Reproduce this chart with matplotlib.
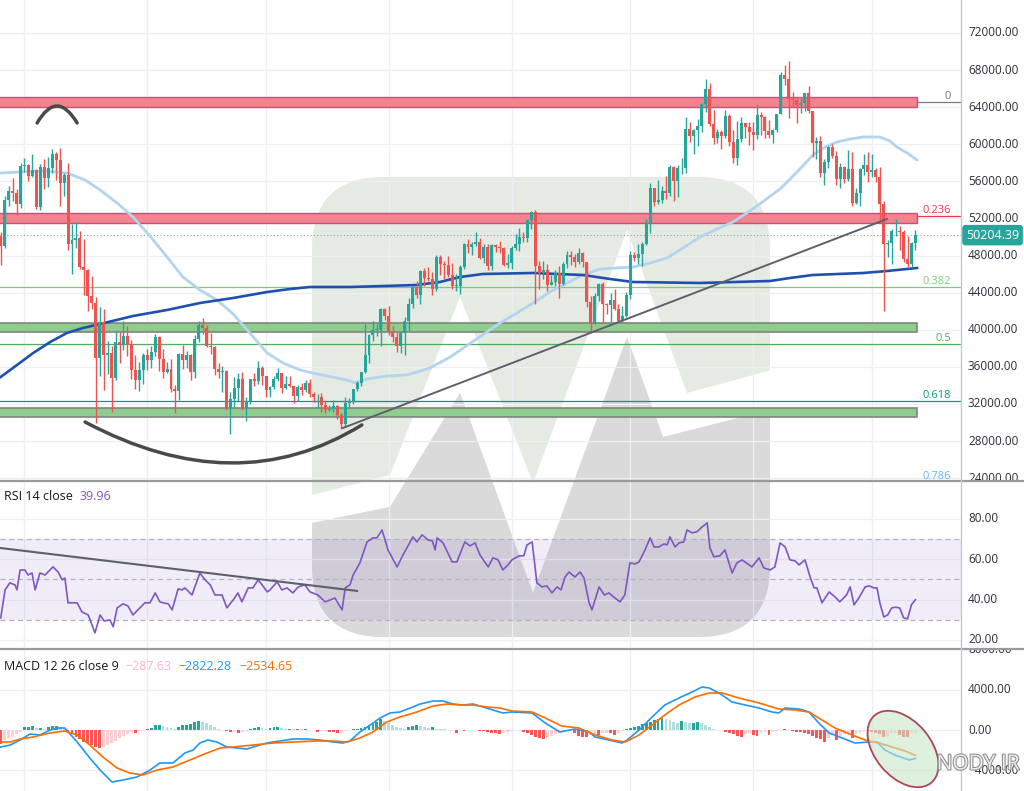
import numpy as np
import matplotlib.pyplot as plt
from matplotlib.patches import FancyBboxPatch, Polygon, Ellipse, PathPatch, Rectangle
from matplotlib.path import Path
from matplotlib.transforms import Bbox, blended_transform_factory
import matplotlib.patheffects as pe

plt.rcParams['font.family'] = ['Open Sans', 'DejaVu Sans']

# =========================
# DATA: daily candles (thousands USD)
# =========================
close_k = [
    49.0, 54.0, 55.0, 54.8, 53.6, 57.7, 57.8, 56.6, 57.2, 53.2,
    57.5, 56.4, 57.4, 58.9, 58.3, 55.8, 56.7, 49.2, 49.7, 49.9,
    46.8, 46.4, 43.6, 42.9, 37.0, 40.8, 37.3, 37.5, 34.8, 38.7,
    38.4, 39.3, 38.5, 35.7, 34.6, 35.7, 37.3, 36.7, 37.6, 39.2,
    36.8, 35.5, 35.8, 33.6, 33.4, 37.4, 36.7, 37.3, 35.5, 39.0,
    40.5, 40.2, 38.3, 38.1, 35.8, 35.5, 35.6, 31.6, 32.5, 33.7,
    34.7, 31.6, 32.3, 34.7, 34.5, 35.9, 35.0, 33.5, 33.8, 34.7,
    35.3, 33.7, 34.2, 33.9, 32.9, 33.8, 33.5, 34.3, 33.1, 32.7,
    32.8, 31.9, 31.4, 31.5, 31.8, 30.8, 29.8, 32.1, 32.3, 33.6,
    34.3, 35.4, 37.3, 39.4, 40.0, 40.0, 42.2, 41.5, 39.8, 39.2,
    38.2, 39.7, 40.9, 42.8, 44.6, 43.8, 46.3, 45.6, 45.5, 44.4,
    47.8, 47.1, 47.0, 45.9, 44.7, 44.7, 46.8, 49.3, 48.9, 49.3,
    49.5, 47.7, 48.9, 46.9, 49.1, 48.9, 48.8, 47.0, 47.2, 48.8,
    49.3, 50.0, 49.9, 51.8, 52.7, 46.9, 46.1, 46.4, 44.8, 45.2,
    46.1, 44.9, 47.1, 48.1, 47.8, 47.3, 48.3, 47.3, 43.0, 40.7,
    43.6, 44.9, 42.8, 42.7, 43.2, 42.2, 41.0, 41.5, 43.8, 48.1,
    47.7, 48.2, 49.2, 51.5, 55.3, 53.8, 54.0, 55.0, 54.7, 57.5,
    56.0, 57.4, 57.4, 61.7, 60.9, 61.5, 62.0, 64.3, 66.0, 62.2,
    60.7, 61.3, 60.9, 63.1, 60.3, 58.5, 60.6, 62.3, 61.9, 61.3,
    61.0, 63.2, 62.9, 61.4, 61.0, 61.5, 63.3, 67.5, 67.0, 64.9,
    64.8, 64.2, 64.4, 65.5, 63.6, 60.1, 60.4, 56.9, 58.1, 59.7,
    58.7, 56.3, 57.6, 56.3, 57.3, 53.7, 54.8, 57.3, 57.8, 57.0,
    57.2, 56.5, 53.6, 49.2, 49.4, 50.6, 50.6, 50.5, 47.6, 47.1,
    49.4, 50.20439,
]
high_k = [
    50.5, 54.4, 55.5, 56.4, 55.2, 58.0, 58.5, 57.9, 58.9, 57.3,
    57.9, 58.4, 58.6, 59.5, 59.2, 59.6, 56.9, 58.0, 51.4, 51.6,
    50.7, 49.8, 46.6, 45.8, 43.5, 42.5, 42.2, 38.8, 38.3, 39.9,
    39.8, 40.9, 40.4, 38.9, 37.3, 36.5, 37.5, 37.9, 38.2, 39.5,
    39.3, 37.9, 36.5, 36.8, 34.1, 37.5, 38.4, 37.7, 37.4, 39.4,
    41.0, 41.3, 40.5, 39.6, 38.2, 36.4, 36.1, 35.7, 33.3, 34.9,
    35.3, 35.5, 32.7, 34.7, 35.3, 36.6, 36.1, 35.0, 33.9, 35.0,
    35.9, 35.3, 35.0, 35.0, 33.9, 34.1, 34.3, 34.6, 34.7, 33.3,
    33.1, 33.2, 32.3, 31.9, 32.4, 31.9, 31.0, 32.8, 32.6, 33.6,
    34.5, 35.4, 40.6, 39.5, 40.9, 40.6, 42.3, 42.4, 42.6, 40.4,
    39.8, 39.9, 41.4, 43.4, 44.7, 45.3, 46.5, 46.7, 46.8, 46.2,
    48.1, 48.1, 47.4, 48.0, 47.2, 46.0, 47.0, 49.4, 49.8, 49.5,
    50.5, 49.9, 49.3, 49.3, 49.2, 49.3, 49.6, 48.9, 48.2, 49.0,
    50.3, 51.0, 50.5, 51.9, 52.8, 52.9, 47.4, 47.4, 47.1, 45.9,
    46.5, 46.9, 47.3, 48.5, 48.5, 48.2, 48.8, 48.4, 47.3, 43.6,
    44.0, 45.0, 45.2, 42.9, 44.0, 44.4, 42.8, 42.6, 44.1, 48.5,
    48.4, 49.2, 49.5, 51.9, 55.8, 55.3, 56.1, 55.5, 56.6, 57.8,
    57.7, 57.8, 58.5, 62.9, 62.4, 61.7, 62.7, 64.5, 67.0, 66.6,
    63.7, 61.7, 61.5, 63.7, 63.3, 61.5, 62.5, 62.9, 62.3, 62.4,
    62.4, 64.3, 63.5, 63.1, 62.6, 61.6, 63.3, 67.8, 68.5, 69.0,
    65.6, 65.0, 65.0, 65.5, 66.3, 63.6, 60.8, 60.9, 58.4, 59.8,
    60.0, 59.3, 58.0, 57.7, 59.4, 59.2, 55.3, 57.4, 58.9, 59.2,
    59.0, 57.4, 57.6, 53.9, 49.7, 50.9, 51.9, 51.2, 50.8, 50.1,
    49.5, 50.8,
]
low_k = [
    47.0, 48.8, 53.3, 53.9, 52.4, 53.1, 57.0, 56.0, 56.5, 53.0,
    52.9, 55.2, 55.4, 56.9, 56.2, 53.4, 54.4, 48.6, 46.0, 48.8,
    46.6, 43.8, 42.0, 42.2, 30.0, 35.0, 33.5, 35.2, 31.1, 34.6,
    36.4, 37.8, 37.2, 34.7, 33.6, 33.4, 34.2, 35.7, 35.9, 37.2,
    35.6, 34.8, 35.3, 33.3, 31.0, 32.4, 35.8, 35.9, 34.6, 34.8,
    38.7, 39.5, 38.1, 37.4, 35.1, 34.8, 33.3, 31.3, 28.8, 31.7,
    32.3, 31.3, 30.2, 32.0, 33.9, 34.2, 34.0, 32.7, 32.7, 33.6,
    34.5, 33.2, 33.6, 33.8, 32.1, 32.3, 33.0, 33.3, 32.7, 32.2,
    31.6, 31.1, 31.0, 31.2, 31.1, 30.4, 29.3, 29.5, 31.7, 32.0,
    33.4, 33.9, 35.3, 36.4, 38.8, 39.3, 38.3, 41.1, 39.4, 38.7,
    37.6, 37.5, 37.3, 39.9, 42.4, 43.4, 42.8, 44.7, 45.3, 43.8,
    44.2, 45.9, 45.5, 45.7, 44.4, 44.2, 43.9, 46.6, 48.3, 48.1,
    49.0, 47.6, 47.2, 46.4, 46.5, 48.4, 48.3, 46.9, 46.7, 46.6,
    48.6, 48.5, 49.5, 49.5, 50.9, 42.8, 44.4, 45.5, 44.2, 44.8,
    44.7, 43.4, 44.8, 46.7, 47.0, 46.8, 47.1, 46.8, 42.5, 39.6,
    40.6, 43.1, 40.7, 41.7, 40.8, 42.1, 40.9, 40.8, 41.4, 43.3,
    47.4, 47.1, 46.9, 49.1, 50.4, 53.4, 53.6, 53.7, 54.1, 54.4,
    53.9, 54.3, 56.8, 56.9, 60.2, 58.9, 59.8, 61.3, 63.5, 62.0,
    60.0, 60.1, 59.5, 60.7, 59.8, 58.0, 57.8, 60.2, 60.7, 59.9,
    59.4, 60.6, 61.0, 60.7, 60.7, 60.1, 61.3, 63.3, 66.4, 62.8,
    64.1, 62.3, 63.4, 63.6, 63.4, 58.6, 58.4, 56.5, 55.6, 57.4,
    58.5, 55.6, 55.3, 55.8, 56.0, 53.3, 53.6, 53.3, 56.7, 55.9,
    56.5, 55.9, 51.7, 42.0, 47.8, 47.1, 50.1, 48.6, 47.3, 46.8,
    46.8, 48.6,
]
# each daily candle opens where the previous one closed
open_k = [50.1] + close_k[:-1]

# moving averages, sampled along the drawn lines
ma50_idx = [0, 4.9, 11.2, 16.7, 21.3, 25.1, 29.4, 33.4, 37.7, 42.0, 46.0, 50.3, 54.6, 58.7,
            62.9, 67.3, 71.3, 75.6, 79.9, 83.9, 88.2, 89.5, 92.5, 97.6, 102.6, 108.4, 113.5,
            119.8, 126.1, 130.4, 134.4, 138.7, 143.0, 147.0, 151.3, 155.6, 159.7, 164.0, 168.3,
            172.3, 176.6, 180.9, 184.9, 189.2, 193.0, 196.8, 201.1, 205.1, 208.2, 211.2, 214.5,
            217.8, 222.0, 224.6, 226.3, 228.9, 231.4]
ma50 = [56905, 57013, 57121, 56905, 56150, 55072, 53671, 52161, 50113, 47848, 45692, 44291,
        43213, 41703, 39655, 37498, 36420, 35665, 35234, 34911, 34479, 34264, 34695, 35018,
        35126, 35881, 37067, 38900, 40733, 41812, 42890, 44076, 45045, 45908, 46554, 46662,
        46770, 47199, 47740, 48818, 50004, 50867, 51622, 52808, 53994, 55180, 57013, 58846,
        59708, 60247, 60571, 60787, 60787, 60355, 59708, 59061, 58307]
ma200_idx = [0, 4.1, 8.2, 12.5, 16.7, 20.8, 25.1, 33.4, 42.0, 50.3, 58.7, 67.3, 73.1, 78.1,
             88.2, 105.1, 110.9, 116.0, 121.8, 134.4, 147.0, 153.9, 159.7, 176.6, 194.3, 199.3,
             205.1, 217.8, 223.8, 231.4]
ma200 = [34911, 36203, 37498, 38684, 39655, 40194, 40624, 41487, 42134, 42889, 43428, 44075,
         44399, 44614, 44614, 44830, 45153, 45692, 46016, 46124, 45908, 45477, 45153, 45046,
         45261, 45585, 45908, 46124, 46339, 46663]

red_zones = [(64000, 65100), (51480, 52550)]
green_zones = [(39720, 40780), (30600, 31600)]
zone_end = 231.4

fib_labels = ["0", "0.236", "0.382", "0.5", "0.618", "0.786"]
fib_prices = [64560, 52250, 44620, 38470, 32310, 23550]
fib_colors = ["#787b86", "#f23645", "#81c784", "#4caf50", "#089981", "#64b5f6"]

trend_idx = [86.4, 223.8]
trend_price = [29411, 51945]

last_price = 50204.39
month_idx = [6, 37, 67, 98, 129, 159, 190, 220]
price_ticks = list(range(24000, 72001, 4000))

# RSI 14 line (sampled)
rsi_idx = [
    0, 1.1, 2.3, 3.6, 4.1, 4.9, 6.1, 6.9, 7.9, 8.7,
    9.9, 11.2, 13.2, 14.5, 15.5, 16.2, 17.0, 19.3, 20.5, 22.1,
    23.8, 25.1, 26.1, 27.6, 28.4, 29.4, 30.9, 32.1, 33.4, 36.4,
    37.7, 39.0, 40.2, 41.0, 42.3, 43.3, 44.8, 45.8, 46.5, 48.3,
    50.3, 51.6, 52.9, 54.1, 55.9, 57.1, 58.7, 59.9, 60.9, 62.5,
    63.7, 65.0, 66.0, 67.3, 68.0, 69.8, 71.0, 72.3, 73.8, 75.1,
    76.8, 78.1, 80.1, 81.9, 83.2, 84.4, 86.2, 87.0, 88.2, 89.0,
    90.7, 92.5, 94.0, 95.0, 96.3, 97.8, 100.1, 101.6, 104.1, 105.1,
    106.4, 107.9, 109.0, 109.7, 110.2, 111.7, 114.0, 115.2, 117.2, 118.5,
    119.8, 121.0, 123.1, 124.3, 125.6, 126.8, 128.1, 129.1, 130.9, 132.1,
    132.9, 134.2, 135.4, 136.7, 137.9, 139.2, 140.5, 141.5, 142.5, 143.5,
    145.0, 146.3, 147.3, 148.6, 149.3, 151.1, 152.4, 153.6, 155.1, 156.4,
    157.6, 158.9, 160.2, 161.2, 162.7, 164.0, 165.0, 166.2, 167.5, 168.3,
    169.0, 170.3, 171.3, 172.5, 173.3, 174.6, 175.8, 177.1, 178.4, 179.1,
    180.1, 181.6, 182.9, 184.7, 185.9, 187.2, 189.0, 189.7, 191.5, 192.7,
    194.3, 195.5, 196.8, 198.1, 199.3, 200.6, 201.6, 203.1, 204.4, 205.4,
    206.1, 207.4, 209.2, 210.7, 211.9, 213.6, 214.5, 215.5, 216.7, 218.3,
    219.3, 220.5, 221.3, 222.0, 223.0, 224.0, 225.0, 226.0, 227.0, 228.0,
    229.0, 230.0, 231.0,
]
rsi_val = [
    30.9, 44.8, 48.3, 47.3, 44.8, 54.7, 54.7, 52.2, 53.2, 44.8,
    53.2, 52.2, 56.2, 53.7, 49.8, 50.7, 38.4, 38.4, 33.9, 32.4,
    23.5, 32.4, 29.4, 29.9, 26.5, 35.9, 37.9, 36.9, 32.4, 38.4,
    38.4, 43.3, 38.9, 38.4, 37.9, 34.9, 45.3, 44.8, 45.8, 42.3,
    53.2, 49.8, 47.3, 42.3, 42.3, 35.9, 39.8, 43.3, 38.9, 45.8,
    45.8, 49.8, 47.3, 43.8, 44.8, 48.8, 44.8, 45.8, 43.3, 46.3,
    47.3, 43.8, 42.3, 38.9, 39.8, 40.8, 34.9, 45.8, 47.3, 52.2,
    58.2, 68.6, 70.6, 70.6, 74.5, 64.6, 56.2, 62.2, 71.1, 68.6,
    72.1, 69.6, 69.1, 64.6, 70.6, 68.1, 58.7, 58.7, 68.6, 66.6,
    68.1, 62.2, 56.2, 60.7, 59.7, 54.7, 57.2, 59.7, 61.7, 61.7,
    67.1, 68.6, 48.3, 46.3, 46.8, 43.3, 46.3, 44.8, 51.2, 53.7,
    51.2, 53.7, 50.7, 38.4, 34.9, 46.3, 42.3, 43.3, 40.8, 38.9,
    42.3, 58.2, 57.7, 58.7, 64.6, 70.6, 66.1, 66.1, 67.6, 67.1,
    71.1, 66.1, 68.1, 68.6, 74.5, 73.1, 73.6, 76.0, 78.0, 65.6,
    61.2, 61.7, 64.6, 53.2, 58.2, 59.7, 57.2, 56.2, 60.7, 55.7,
    54.7, 56.2, 68.1, 66.1, 59.7, 59.2, 57.2, 59.7, 51.2, 45.8,
    45.8, 38.4, 43.8, 41.3, 38.9, 42.3, 46.3, 37.4, 40.8, 46.3,
    46.8, 45.8, 45.8, 38.4, 31.4, 32.4, 35.9, 36.2, 35.9, 31.0,
    30.4, 37.5, 39.96,
]
rsi_trend_idx = [-0.2, 90]
rsi_trend_val = [65.6, 44.3]

# MACD 12 26 9
macd_idx = [0, 2.4, 4.9, 7.4, 9.9, 12.5, 14.5, 16.2, 19.3, 22.5, 25.1, 28.1, 30.9, 34.4, 37.7,
            40.2, 43.5, 46.5, 48.6, 50.3, 52.3, 54.6, 57.1, 59.7, 62.2, 63.7, 67.2, 70.5, 73.8,
            77.3, 80.6, 83.9, 86.4, 88.2, 90.7, 93.3, 95.8, 98.3, 100.8, 103.4, 105.9, 109.2,
            111.7, 114.2, 116.7, 119.3, 121.8, 124.3, 126.8, 129.1, 134.2, 137.5, 141.2, 145,
            148.6, 150.1, 153.6, 156.9, 158.2, 161.2, 164.5, 167.7, 171.3, 174.6, 177.1, 178.9,
            181.4, 184.7, 188, 191.5, 194.8, 196.5, 198.1, 201.6, 204.1, 206.6, 209.2, 212.5,
            215.7, 219.3, 221.3, 223.3, 225.8, 229.4, 231]
macd_val = [-1690, -1491, -994, -398, -497, 0, 199, 199, -1193, -2783, -3976, -5169, -4970,
            -4672, -3976, -3280, -3280, -2286, -1988, -1292, -994, -1193, -1690, -1789, -1889,
            -1690, -1292, -1093, -895, -895, -994, -1193, -1292, -1093, -199, 497, 1193, 1690,
            1789, 2187, 2584, 2883, 2883, 2584, 2485, 2584, 2286, 1988, 1690, 1789, 1690, 696,
            -199, 99, -199, -696, -994, -1292, -994, 0, 1292, 2485, 3181, 3777, 4274, 4175,
            3678, 2783, 2485, 2187, 1789, 1690, 2187, 2087, 1789, 696, -298, -795, -1292,
            -1193, -1193, -1988, -2485, -2982, -2822.28]
sig_idx = [0, 2.4, 4.9, 8.2, 12.5, 16.2, 19.3, 22.5, 25.8, 29.4, 32.6, 35.9, 39.5, 43.5, 47.8,
           52.1, 55.4, 58.7, 63.7, 68.8, 73.8, 79.9, 83.9, 87.5, 90.7, 94, 97.5, 100.8, 105.1,
           109.2, 112.7, 116, 119.3, 122.8, 126.1, 129.1, 134.2, 137.5, 141.7, 146, 150.1,
           154.4, 157.7, 161.2, 164.5, 167.7, 171.3, 175.3, 178.9, 182.2, 186.4, 191.5, 196.5,
           200.6, 204.1, 207.4, 210.7, 215, 218.3, 221.8, 225.1, 228.4, 231]
sig_val = [-1193, -1193, -895, -696, -298, -99, -497, -1491, -2684, -3777, -4274, -4473, -3976,
           -3678, -2982, -2286, -1789, -1690, -1491, -1292, -1193, -1093, -1093, -1193, -795,
           -199, 795, 1292, 1789, 2386, 2584, 2485, 2485, 2286, 2187, 1889, 1789, 1193, 398,
           199, -497, -994, -1193, -497, 497, 1491, 2485, 3280, 3678, 3678, 3181, 2684, 2087,
           1988, 1789, 994, 199, -497, -994, -1292, -1690, -2087, -2534.65]
hist_val = [
    -1400, -990, -830, -660, -400, -200, 265, 330, 400, 165,
    230, 130, 265, 364, 400, 265, 66, -265, -430, -660,
    -930, -1160, -1320, -1490, -1650, -1820, -1650, -1490, -1320, -1060,
    -830, -600, -400, -230, -330, -100, -30, 130, 230, 460,
    530, 400, 330, 230, 130, 330, 460, 530, 600, 830,
    930, 830, 660, 460, 330, 130, 30, -130, -230, -165,
    -265, -165, -100, 100, 230, 265, 165, 100, 230, 265,
    300, 165, 130, 130, 100, 100, 66, 66, 30, 30,
    -165, -130, -100, -165, -200, -265, -165, -66, 10, 66,
    130, 230, 330, 460, 630, 830, 1060, 930, 660, 460,
    330, 230, 130, 265, 430, 530, 400, 300, 200, 330,
    130, 66, 50, 30, 10, -265, -30, -66, -30, 30,
    -30, -66, -130, -200, -265, -330, -430, -265, -165, -66,
    -30, -30, -200, -330, -500, -660, -760, -890, -730, -600,
    -400, -265, -165, -100, -66, -330, -600, -660, -730, -530,
    -400, -500, -330, -265, -330, -500, -265, -130, 66, 165,
    300, 430, 560, 700, 830, 990, 1125, 1160, 1060, 990,
    830, 730, 930, 790, 660, 660, 760, 730, 500, 265,
    66, 30, -30, -165, -265, -400, -560, -660, -400, -330,
    -530, -600, -330, -230, -460, -165, -66, -10, 100, -30,
    -66, -165, -200, -330, -430, -600, -760, -930, -1160, -830,
    -500, -990, -600, -430, -330, -830, -400, -265, -230, -165,
    -165, -265, -430, -660, -560, -330, -265, -500, -660, -730,
    -330, -287.63,
]

# =========================
# FIGURE LAYOUT (pixel based)
# =========================
W, H = 1024, 791
fig = plt.figure(figsize=(W / 100, H / 100), dpi=100)
fig.patch.set_facecolor("white")


def px_rect(x0, y0, x1, y1):
    return [x0 / W, 1 - y1 / H, (x1 - x0) / W, (y1 - y0) / H]


bg = fig.add_axes([0, 0, 1, 1], zorder=0)
bg.set_xlim(0, W)
bg.set_ylim(H, 0)
bg.axis("off")

ax = fig.add_axes(px_rect(0, 0, 961, 480), zorder=2)
ax_rsi = fig.add_axes(px_rect(0, 481, 961, 648), zorder=2)
ax_macd = fig.add_axes(px_rect(0, 650, 961, 791), zorder=2)
top = fig.add_axes([0, 0, 1, 1], zorder=6)
top.set_xlim(0, W)
top.set_ylim(H, 0)
top.axis("off")

for a in (ax, ax_rsi, ax_macd):
    a.set_facecolor("none")
    a.set_xlim(-0.18, 242.5)
    a.set_xticks([])
    a.set_yticks([])
    for s in a.spines.values():
        s.set_visible(False)
    for m in month_idx:
        a.axvline(m, color="#eceff4", lw=0.9, zorder=0.5)

ax.set_ylim(23804, 75558)
ax_rsi.set_ylim(16.0, 98.8)
ax_macd.set_ylim(-6063, 7952)

# =========================
# WATERMARK LOGO (behind the chart)
# =========================
logo = FancyBboxPatch((312, 177), 458, 460, boxstyle="round,pad=0,rounding_size=72",
                      fc="#e5ebe3", ec="none")
bg.add_patch(logo)
upper = [(290, 501), (312, 495), (390, 475), (460, 297), (533, 483), (627, 230), (687, 393), (790, 365)]
lower = [(290, 528), (312, 523), (390, 507), (460, 393), (533, 593), (627, 337), (663, 437), (790, 405)]
band = Polygon(upper + lower[::-1], closed=True, fc="white", ec="none")
bg.add_patch(band)
band.set_clip_path(logo)
shade = Polygon(lower + [(790, 660), (290, 660)], closed=True, fc="#dadada", ec="none")
bg.add_patch(shade)
shade.set_clip_path(logo)

# =========================
# PRICE PANEL
# =========================
for p in price_ticks:
    ax.axhline(p, color="#eceff4", lw=0.9, zorder=0.5)

for lab, p, colr in zip(fib_labels, fib_prices, fib_colors):
    ax.axhline(p, color=colr, lw=0.9, zorder=1)
    ax.text(240.0, p, lab, color=colr, fontsize=8, ha="right", va="bottom", zorder=7, clip_on=True)

for lo_p, hi_p in red_zones:
    ax.add_patch(Rectangle((-1, lo_p), zone_end + 1, hi_p - lo_p, fc="#f1848c", ec="#c9507e",
                           lw=1.0, zorder=1.5))
for lo_p, hi_p in green_zones:
    ax.add_patch(Rectangle((-1, lo_p), zone_end + 1, hi_p - lo_p, fc="#8fcd8f", ec="#7d867d",
                           lw=1.2, zorder=1.5))

ax.axhline(last_price, color="#9598a1", lw=0.8, ls=(0, (1, 2)), zorder=2)

ax.plot(ma50_idx, ma50, color="#b3d4ef", lw=2.0, zorder=2.5, solid_capstyle="round",
        solid_joinstyle="round")
ax.plot(ma200_idx, ma200, color="#1f50b0", lw=1.9, zorder=2.6, solid_joinstyle="round")

x = np.arange(len(close_k))
o = np.array(open_k) * 1000
c = np.array(close_k) * 1000
hi = np.array(high_k) * 1000
lo = np.array(low_k) * 1000
cols = np.where(c >= o, "#26a69a", "#ef5350")
ax.vlines(x, lo, hi, colors=cols, lw=1.0, zorder=4)
ax.bar(x, np.maximum(np.abs(c - o), 90), bottom=np.minimum(o, c), width=0.75, color=cols,
       linewidth=0, zorder=5)

ax.plot(trend_idx, trend_price, color="#5d606b", lw=1.4, zorder=6)

arc_top = Path([(9.2, 62300), (14.2, 65960), (19.3, 62300)], [Path.MOVETO, Path.CURVE3, Path.CURVE3])
arc_bot = Path([(21.3, 30060), (59.5, 21380), (91.2, 29740)], [Path.MOVETO, Path.CURVE3, Path.CURVE3])
for pth in (arc_top, arc_bot):
    ax.add_patch(PathPatch(pth, fc="none", ec="#4a4a4a", lw=2.5, capstyle="round", zorder=6))

# =========================
# RSI PANEL
# =========================
for v in (20, 40, 60, 80):
    ax_rsi.axhline(v, color="#eceff4", lw=0.9, zorder=0.5)
ax_rsi.axhspan(30, 70, color="#7e57c2", alpha=0.1, lw=0, zorder=1)
for v in (30, 50, 70):
    ax_rsi.axhline(v, color="#b7b0c2", lw=0.9, ls=(0, (4, 3)), zorder=1.2)
ax_rsi.plot(rsi_idx, rsi_val, color="#7e57c2", lw=1.2, zorder=3)
ax_rsi.plot(rsi_trend_idx, rsi_trend_val, color="#5d606b", lw=1.5, zorder=4)

# =========================
# MACD PANEL
# =========================
for v in (-4000, 0, 4000):
    ax_macd.axhline(v, color="#eceff4", lw=0.9, zorder=0.5)
hist = np.array(hist_val)
prev = np.concatenate([[hist[0]], hist[:-1]])
hcols = np.where(hist >= 0, np.where(hist >= prev, "#26a69a", "#b2dfdb"),
                 np.where(hist <= prev, "#ff5252", "#ffcdd2"))
ax_macd.bar(np.arange(len(hist)), hist, width=0.72, color=hcols, linewidth=0, zorder=2)
ax_macd.plot(macd_idx, macd_val, color="#2196f3", lw=1.2, zorder=3)
ax_macd.plot(sig_idx, sig_val, color="#ff6d00", lw=1.2, zorder=3)

# =========================
# RIGHT SCALE LABELS
# =========================
def side_label(a, val, txt, y_top, y_bot):
    tr = blended_transform_factory(fig.transFigure, a.transData)
    t = fig.text(968 / W, val, txt, transform=tr, ha="left", va="center", fontsize=8.5,
                 color="#2a2e39", zorder=8)
    t.set_clip_on(True)
    t.set_clip_box(Bbox.from_extents(961, H - y_bot, W, H - y_top))


for p in price_ticks:
    side_label(ax, p, f"{p:.2f}", 0, 480)
for v in (20, 40, 60, 80):
    side_label(ax_rsi, v, f"{v:.2f}", 481, 648)
for v in (-4000, 0, 4000, 8000):
    side_label(ax_macd, v, f"{v:.2f}".replace("-", "\u2212"), 650, 791)

tr_last = blended_transform_factory(fig.transFigure, ax.transData)
fig.text(966 / W, last_price, f"{last_price:.2f}", transform=tr_last, ha="left", va="center",
         fontsize=9, color="white", zorder=9,
         bbox=dict(boxstyle="round,pad=0.3,rounding_size=0.25", fc="#26a69a", ec="none"))

# panel separators
top.plot([0, W], [480.5, 480.5], color="#9a9a9a", lw=1.6)
top.plot([0, W], [649, 649], color="#9a9a9a", lw=1.6)
top.plot([961, 961], [0, H], color="#c4c7ce", lw=1.0)

# circled MACD area
top.add_patch(Ellipse((903, 749), 88, 56, angle=50, fc="#c8e6c9", ec="none", alpha=0.6))
top.add_patch(Ellipse((903, 749), 88, 56, angle=50, fc="none", ec="#b0455a", lw=1.3))

# headers
renderer = fig.canvas.get_renderer()


def header(parts, y_px):
    xpos = 4
    for txt, colr in parts:
        t = fig.text(xpos / W, 1 - y_px / H, txt, color=colr, fontsize=9, ha="left", va="center",
                     zorder=9)
        xpos = t.get_window_extent(renderer).x1 + 7


header([("RSI 14 close", "#131722"), ("39.96", "#7e57c2")], 497)
header([("MACD 12 26 close 9", "#131722"), ("\u2212287.63", "#f7b6c6"),
        ("\u22122822.28", "#2196f3"), ("\u22122534.65", "#ff6d00")], 666)

fig.text(978 / W, 1 - 764 / H, "NODY.IR", fontsize=15, color="#eeeeee", ha="center", va="center",
         zorder=10, path_effects=[pe.withStroke(linewidth=1.5, foreground="#8c8c8c")])

plt.savefig("out.png", dpi=100)
